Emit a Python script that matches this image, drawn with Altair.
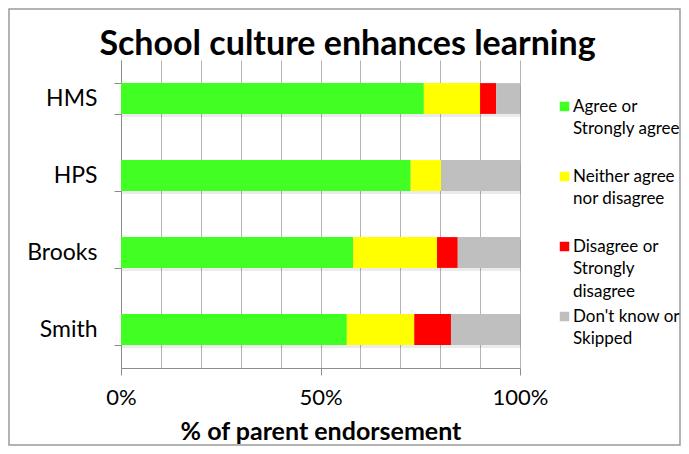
import altair as alt
import pandas as pd

schools = ["HMS", "HPS", "Brooks", "Smith"]
responses = [
    "Agree or|Strongly agree",
    "Neither agree|nor disagree",
    "Disagree or|Strongly|disagree",
    "Don't know or|Skipped",
]
colors = ["#41ff22", "#ffff00", "#ff0000", "#bfbfbf"]
# percent of parents per response, per school (order follows `responses`)
agree = [75.9, 72.6, 58.2, 56.6]
neither = [14.1, 7.6, 21.0, 16.9]
disagree = [4.0, 0.0, 5.2, 9.2]
dontknow = [6.0, 19.8, 15.6, 17.3]
x_ticks = [0, 0.1, 0.2, 0.3, 0.4, 0.5, 0.6, 0.7, 0.8, 0.9, 1.0]

rows = []
for i, s in enumerate(schools):
    for j, (r, series) in enumerate(zip(responses, [agree, neither, disagree, dontknow])):
        rows.append({"school": s, "response": r, "order": j, "value": series[i] / 100})
df = pd.DataFrame(rows)

FONT = "Lato"

x_enc = alt.X(
    "value:Q",
    stack="zero",
    scale=alt.Scale(domain=[0, 1], nice=False),
    axis=alt.Axis(
        values=x_ticks,
        format="%",
        labelExpr="abs(datum.value*2 - round(datum.value*2)) < 0.001 ? format(datum.value, '.0%') : ''",
        tickOpacity={"condition": {"test": "abs(datum.value*2 - round(datum.value*2)) > 0.001", "value": 0}, "value": 1},
        grid=True,
        gridColor="#b4b4b4",
        gridWidth=1,
        domainColor="#8c8c8c",
        tickColor="#8c8c8c",
        tickSize=7,
        labelFlush=False,
        labelFontSize=22,
        labelFont=FONT,
        labelColor="#000",
        labelPadding=12,
        title="% of parent endorsement",
        titleFont=FONT,
        titleFontSize=25,
        titleFontWeight="bold",
        titleColor="#000",
        titlePadding=11,
    ),
)
y_enc = alt.Y(
    "school:N",
    sort=schools,
    scale=alt.Scale(paddingInner=0.6, paddingOuter=0.3),
    axis=alt.Axis(
        title=None,
        tickBand="extent",
        domainColor="#8c8c8c",
        tickColor="#8c8c8c",
        tickSize=7,
        labelFontSize=23,
        labelFont=FONT,
        labelColor="#000",
        labelPadding=17,
        grid=False,
    ),
)

shadow = alt.Chart(df).mark_bar(color="#000", opacity=0.08, yOffset=3, xOffset=1).encode(
    x=x_enc, y=y_enc, order=alt.Order("order:Q")
)

bars = alt.Chart(df).mark_bar().encode(
    x=x_enc,
    y=y_enc,
    order=alt.Order("order:Q"),
    color=alt.Color(
        "response:N",
        scale=alt.Scale(domain=responses, range=colors),
        sort=responses,
        legend=alt.Legend(
            title=None,
            orient="none",
            legendX=435,
            legendY=38,
            padding=0,
            symbolType="square",
            symbolSize=90,
            symbolStrokeWidth=0,
            labelFont=FONT,
            labelFontSize=17,
            labelColor="#000",
            labelLimit=200,
            labelOffset=0,
            labelBaseline="middle",
            labelExpr="split(datum.label + (length(split(datum.label, '|')) < 3 ? '| ' : ''), '|')",
            rowPadding=7,
            columns=1,
        ),
    ),
)

frame_df = pd.DataFrame({"k": [0]})
frame = alt.Chart(frame_df).mark_rect(
    fill="#ffffff", fillOpacity=0, stroke="#9a9a9a", strokeWidth=1.5, strokeOpacity=1
).encode(
    x=alt.value(-112), x2=alt.value(559), y=alt.value(-51), y2=alt.value(385)
)

chart = (
    alt.layer(frame, shadow, bars)
    .properties(
        width=399,
        height=308,
        autosize=alt.AutoSizeParams(type="none"),
        padding={"left": 113, "top": 52, "right": 161, "bottom": 78},
        title=alt.TitleParams(
            "School culture enhances learning",
            font=FONT,
            fontSize=34,
            fontWeight="bold",
            color="#000",
            anchor="middle",
            frame="group",
            dx=27,
            offset=-54,
        ),
    )
    .configure(style={"guide-label": {"lineHeight": 22.5}})
    .configure_view(stroke=None)
)

chart.save("out.html", embed_options={"renderer": "svg", "actions": False})
